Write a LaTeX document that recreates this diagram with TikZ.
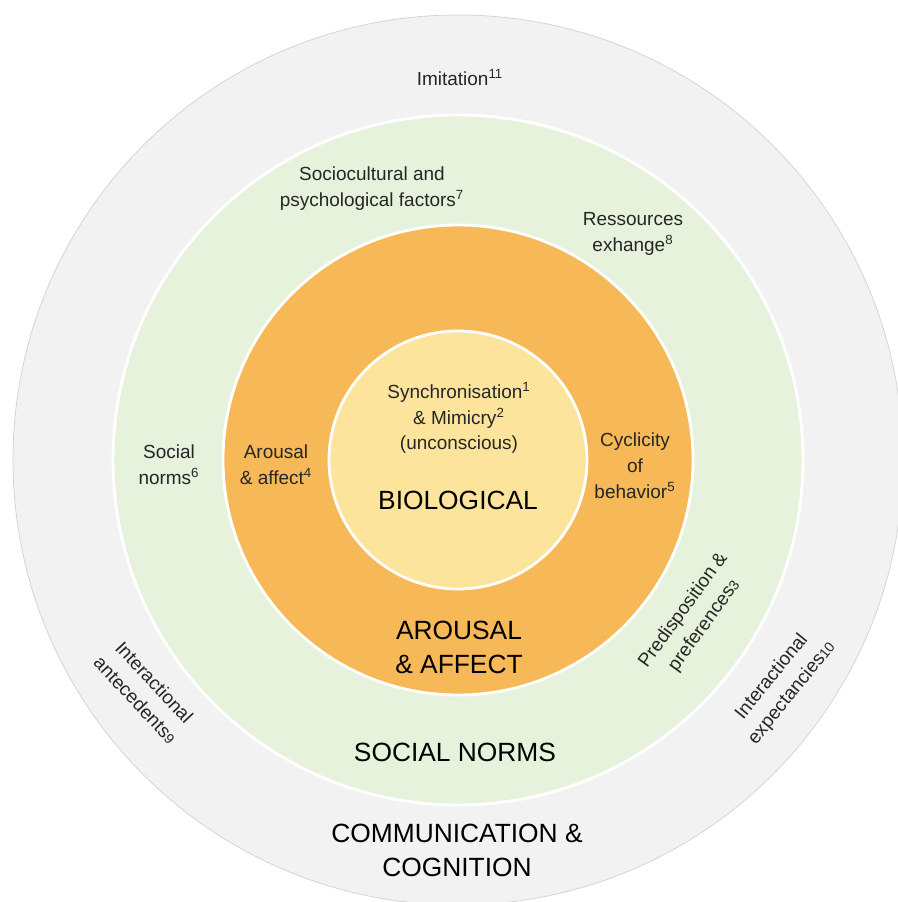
\documentclass[tikz,border=0pt]{standalone}
\usepackage{fontspec}
\setmainfont{Liberation Sans}
\usepackage{xcolor}
\usetikzlibrary{positioning}

\definecolor{ringgrey}{HTML}{F2F2F2}
\definecolor{ringgreen}{HTML}{E7F2DC}
\definecolor{ringorange}{HTML}{F7B858}
\definecolor{ringyellow}{HTML}{FDE49C}

\tikzset{
  ring/.style={circle, draw=white, line width=1.6pt, inner sep=0pt},
  small/.style={align=center, font=\fontsize{10.8}{14.7}\selectfont, text=black!85},
  big/.style={align=center, font=\fontsize{15}{19.3}\selectfont, text=black},
}

\begin{document}
\begin{tikzpicture}[x=0.02cm, y=0.02cm]
  \useasboundingbox (0,0) rectangle (898,902);
  \clip (0,0) rectangle (898,902);
  % rings
  \node[ring, fill=ringgrey, draw=black!18, line width=0.4pt, minimum size=890*0.02cm] (comm) at (458,442) {};
  \node[ring, fill=ringgreen, minimum size=690*0.02cm] (norms) at (458,442) {};
  \node[ring, fill=ringorange, minimum size=470*0.02cm] (arousal) at (458,442) {};
  \node[ring, fill=ringyellow, minimum size=258*0.02cm] (bio) at (458,442) {};
  % outer ring
  \node[small] (imit) at (460,824) {Imitation\textsuperscript{11}};
  \node[big] (commtext) at (457,52) {COMMUNICATION \&\\COGNITION};
  \node[small, rotate=-47] (antec) at (145,211) {Interactional\\antecedents{\footnotesize 9}};
  \node[small, rotate=51] (expect) at (782,217) {Interactional\\expectancies{\footnotesize 10}};
  % social norms ring
  \node[small] (socio) at (372,713) {Sociocultural and\\psychological factors\textsuperscript{7}};
  \node[small] (ress) at (633,668) {Ressources\\exhange\textsuperscript{8}};
  \node[small] (snorms) at (169,437) {Social\\norms\textsuperscript{6}};
  \node[small, rotate=54] (predis) at (694,284) {Predisposition \&\\preferences{\footnotesize 3}};
  \node[big] (normstext) at (455,150) {SOCIAL NORMS};
  % arousal ring
  \node[small] (aff) at (276,437) {Arousal\\\& affect\textsuperscript{4}};
  \node[small] (cycl) at (635,436) {Cyclicity\\of\\behavior\textsuperscript{5}};
  \node[big] (aroustext) at (459,255) {AROUSAL\\\& AFFECT};
  % biological core
  \node[small] (sync) at (459,484) {Synchronisation\textsuperscript{1}\\\& Mimicry\textsuperscript{2}\\(unconscious)};
  \node[big] (biotext) at (458,402) {BIOLOGICAL};
\end{tikzpicture}
\end{document}
